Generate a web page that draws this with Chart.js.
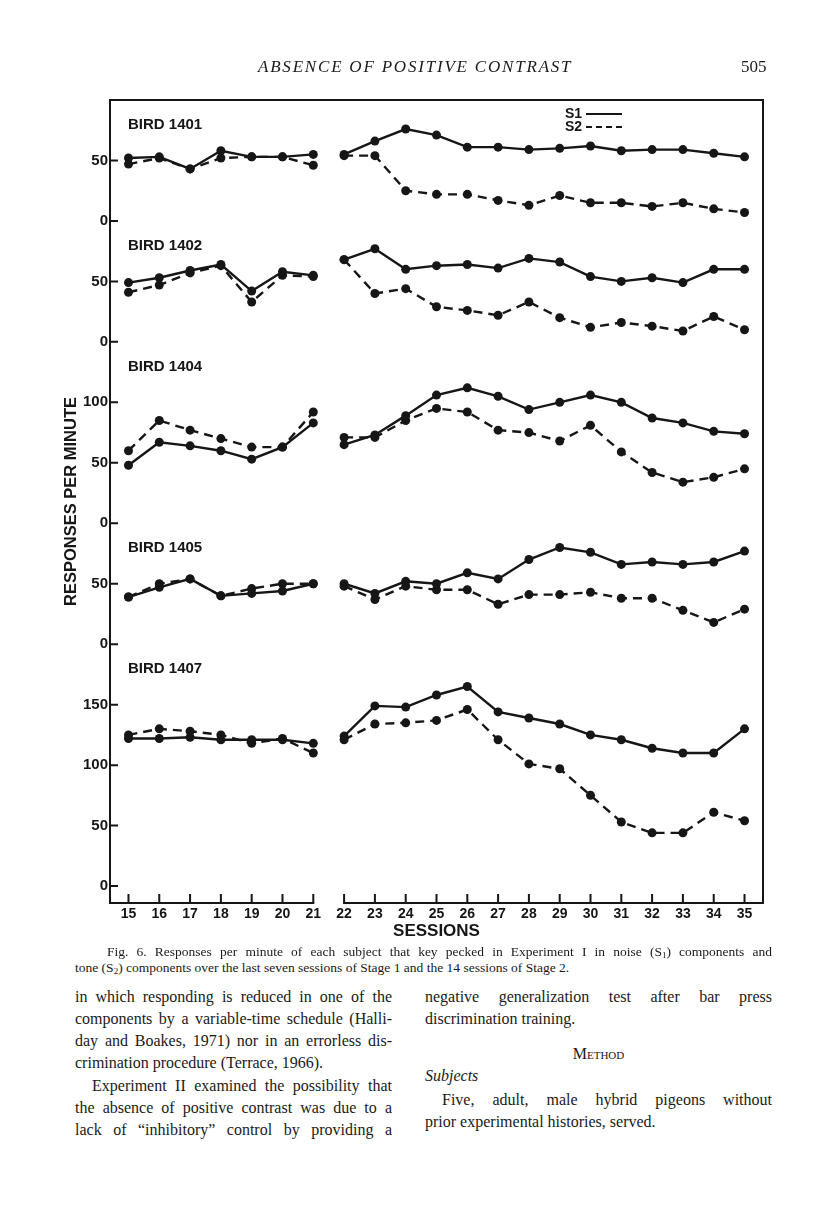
<!DOCTYPE html>
<html>
<head>
<meta charset="utf-8">
<title>Absence of positive contrast - Fig. 6</title>
<script src="https://cdn.jsdelivr.net/npm/chart.js@4.4.1/dist/chart.umd.min.js"></script>
<style>
  html, body { margin: 0; padding: 0; background: #fff; }
  body { width: 816px; height: 1207px; position: relative; overflow: hidden; color: #1a1a1a; font-family: "Liberation Serif", serif; }
  #chartBox { position: absolute; left: 0; top: 0; width: 816px; height: 960px; }
  .ln { position: absolute; font-size: 16px; line-height: 20px; white-space: nowrap; }
  .j { text-align: justify; text-align-last: justify; white-space: normal; }
  .cap { position: absolute; font-size: 13.5px; line-height: 16px; white-space: nowrap; }
  sub { font-size: 9px; line-height: 0; vertical-align: -2px; }
</style>
</head>
<body>
<div id="chartBox"><canvas id="fig6"></canvas></div>

<div class="ln" style="left:258px; top:57px; font-size:17px; font-style:italic; letter-spacing:1.8px;">ABSENCE OF POSITIVE CONTRAST</div>
<div class="ln" style="left:741px; top:57px; font-size:17px;">505</div>

<div class="cap j" style="left:107px; top:944px; width:665px;">Fig. 6. Responses per minute of each subject that key pecked in Experiment I in noise (S<sub>1</sub>) components and</div>
<div class="cap" style="left:75px; top:960px;">tone (S<sub>2</sub>) components over the last seven sessions of Stage 1 and the 14 sessions of Stage 2.</div>

<!-- left column -->
<div class="ln j" style="left:75px; top:987px; width:317px;">in which responding is reduced in one of the</div>
<div class="ln j" style="left:75px; top:1009px; width:317px;">components by a variable-time schedule (Halli-</div>
<div class="ln j" style="left:75px; top:1031px; width:317px;">day and Boakes, 1971) nor in an errorless dis-</div>
<div class="ln" style="left:75px; top:1053px;">crimination procedure (Terrace, 1966).</div>
<div class="ln j" style="left:92px; top:1076px; width:300px;">Experiment II examined the possibility that</div>
<div class="ln j" style="left:75px; top:1098px; width:317px;">the absence of positive contrast was due to a</div>
<div class="ln j" style="left:75px; top:1120px; width:317px;">lack of “inhibitory” control by providing a</div>

<!-- right column -->
<div class="ln j" style="left:425px; top:987px; width:347px;">negative generalization test after bar press</div>
<div class="ln" style="left:425px; top:1009px;">discrimination training.</div>
<div class="ln" style="left:425px; top:1044px; width:347px; text-align:center; font-variant:small-caps;">Method</div>
<div class="ln" style="left:425px; top:1066px; font-style:italic;">Subjects</div>
<div class="ln j" style="left:442px; top:1090px; width:330px;">Five, adult, male hybrid pigeons without</div>
<div class="ln" style="left:425px; top:1112px;">prior experimental histories, served.</div>

<script>
// Sessions on the x axis (stage 1: 15-21, stage 2: 22-35)
const sessions = [15, 16, 17, 18, 19, 20, 21, 22, 23, 24, 25, 26, 27, 28, 29, 30, 31, 32, 33, 34, 35];
const lastStage1 = 21;

const birdNames = ['BIRD 1401', 'BIRD 1402', 'BIRD 1404', 'BIRD 1405', 'BIRD 1407'];
const seriesNames = ['S1', 'S2'];

// Responses per minute
const s1_1401 = [52, 53, 43, 58, 53, 53, 55, 55, 66, 76, 71, 61, 61, 59, 60, 62, 58, 59, 59, 56, 53];
const s2_1401 = [47, 52, 43, 52, 53, 53, 46, 54, 54, 25, 22, 22, 17, 13, 21, 15, 15, 12, 15, 10, 7];

const s1_1402 = [49, 53, 59, 64, 42, 58, 55, 68, 77, 60, 63, 64, 61, 69, 66, 54, 50, 53, 49, 60, 60];
const s2_1402 = [41, 47, 57, 63, 33, 55, 54, 68, 40, 44, 29, 26, 22, 33, 20, 12, 16, 13, 9, 21, 10];

const s1_1404 = [48, 67, 64, 60, 53, 63, 83, 65, 73, 89, 106, 112, 105, 94, 100, 106, 100, 87, 83, 76, 74];
const s2_1404 = [60, 85, 77, 70, 63, 63, 92, 71, 71, 85, 95, 92, 77, 75, 68, 81, 59, 42, 34, 38, 45];

const s1_1405 = [39, 47, 54, 40, 42, 44, 50, 50, 42, 52, 50, 59, 54, 70, 80, 76, 66, 68, 66, 68, 77];
const s2_1405 = [39, 50, 54, 40, 46, 50, 50, 48, 37, 48, 45, 45, 33, 41, 41, 43, 38, 38, 28, 18, 29];

const s1_1407 = [122, 122, 123, 121, 121, 121, 118, 124, 149, 148, 158, 165, 144, 139, 134, 125, 121, 114, 110, 110, 130];
const s2_1407 = [125, 130, 128, 125, 118, 122, 110, 121, 134, 135, 137, 146, 121, 101, 97, 75, 53, 44, 44, 61, 54];

// The panels share one axis; each bird's zero sits at bandBase on it
const bandBase = [550, 450, 300, 200, 0];
const bandTop = [650, 550, 450, 300, 200];
const bandTickLabels = [[0, 50], [0, 50], [0, 50, 100], [0, 50], [0, 50, 100, 150]];

const ink = '#161616';
const sans = '"Liberation Sans", Arial, sans-serif';

const birdSeries = [
  [s1_1401, s2_1401],
  [s1_1402, s2_1402],
  [s1_1404, s2_1404],
  [s1_1405, s2_1405],
  [s1_1407, s2_1407]
];

// tick values on the shared axis + what they read as
const yTickValues = [];
const yTickText = {};
bandBase.forEach((base, b) => {
  bandTickLabels[b].forEach(v => {
    yTickValues.push(base + v);
    yTickText[base + v] = String(v);
  });
});
yTickValues.sort((a, b) => a - b);

// points of one line, broken between the two stages
function toPoints(values, base) {
  const pts = [];
  sessions.forEach((s, i) => {
    pts.push({ x: s, y: base + values[i] });
    if (s === lastStage1) pts.push({ x: s + 0.5, y: null });
  });
  return pts;
}

const datasets = [];
birdSeries.forEach((pair, b) => {
  pair.forEach((values, k) => {
    datasets.push({
      label: birdNames[b] + ' ' + seriesNames[k],
      data: toPoints(values, bandBase[b]),
      borderColor: ink,
      backgroundColor: ink,
      borderWidth: 2.4,
      borderDash: k === 0 ? [] : [9, 6],
      pointRadius: 4.5,
      pointBorderWidth: 0,
      pointBackgroundColor: ink,
      tension: 0,
      spanGaps: false
    });
  });
});

// box, inward tick marks, panel names and the key
const frame = {
  id: 'frame',
  afterDraw(chart) {
    const { ctx, chartArea: a, scales: { x, y } } = chart;
    ctx.save();
    ctx.strokeStyle = ink;
    ctx.lineWidth = 2;
    ctx.lineCap = 'square';

    const breakL = x.getPixelForValue(lastStage1);
    const breakR = x.getPixelForValue(lastStage1 + 1);
    ctx.beginPath();
    ctx.moveTo(breakL, a.bottom);
    ctx.lineTo(a.left, a.bottom);
    ctx.lineTo(a.left, a.top);
    ctx.lineTo(a.right, a.top);
    ctx.lineTo(a.right, a.bottom);
    ctx.lineTo(breakR, a.bottom);
    ctx.stroke();

    ctx.lineCap = 'butt';
    ctx.beginPath();
    y.ticks.forEach(t => {
      const py = y.getPixelForValue(t.value);
      ctx.moveTo(a.left, py);
      ctx.lineTo(a.left + 8, py);
    });
    x.ticks.forEach(t => {
      const px = x.getPixelForValue(t.value);
      ctx.moveTo(px, a.bottom);
      ctx.lineTo(px, a.bottom - 9);
    });
    ctx.stroke();

    ctx.fillStyle = ink;
    ctx.textBaseline = 'middle';
    ctx.font = 'bold 15px ' + sans;
    birdNames.forEach((name, b) => {
      ctx.fillText(name, a.left + 18, y.getPixelForValue(bandTop[b]) + 25);
    });

    // key
    ctx.font = 'bold 14px ' + sans;
    const kx = a.right - 198;
    const ky = a.top + 14;
    seriesNames.forEach((name, k) => {
      const yy = ky + k * 13;
      ctx.fillText(name, kx, yy);
      ctx.setLineDash(k === 0 ? [] : [6, 4]);
      ctx.lineWidth = 2;
      ctx.beginPath();
      ctx.moveTo(kx + 21, yy);
      ctx.lineTo(kx + 57, yy);
      ctx.stroke();
    });
    ctx.restore();
  }
};

new Chart(document.getElementById('fig6').getContext('2d'), {
  type: 'line',
  data: { datasets: datasets },
  options: {
    responsive: true,
    maintainAspectRatio: false,
    animation: false,
    events: [],
    layout: { padding: { left: 0, right: 53, top: 100, bottom: 7 } },
    plugins: {
      legend: { display: false },
      tooltip: { enabled: false }
    },
    scales: {
      x: {
        type: 'linear',
        min: 14.4,
        max: 35.6,
        afterBuildTicks: s => { s.ticks = sessions.map(v => ({ value: v })); },
        afterFit: s => { s.height = 50; },
        grid: { display: false, drawTicks: false },
        border: { display: false },
        ticks: {
          padding: 3,
          autoSkip: false,
          maxRotation: 0,
          color: ink,
          font: { family: sans, weight: 'bold', size: 14 },
          callback: v => String(v)
        },
        title: {
          display: true,
          text: 'SESSIONS',
          color: ink,
          font: { family: sans, weight: 'bold', size: 17 },
          padding: { top: 0, bottom: 11 }
        }
      },
      y: {
        type: 'linear',
        min: -14,
        max: 650,
        afterBuildTicks: s => { s.ticks = yTickValues.map(v => ({ value: v })); },
        afterFit: s => { s.width = 110; },
        grid: { display: false, drawTicks: false },
        border: { display: false },
        ticks: {
          padding: 2,
          color: ink,
          font: { family: sans, weight: 'bold', size: 15 },
          callback: v => yTickText[v]
        },
        title: {
          display: true,
          text: 'RESPONSES PER MINUTE',
          color: ink,
          font: { family: sans, weight: 'bold', size: 16.5 },
          padding: { top: 62, bottom: 0 }
        }
      }
    }
  },
  plugins: [frame]
});
</script>
</body>
</html>
